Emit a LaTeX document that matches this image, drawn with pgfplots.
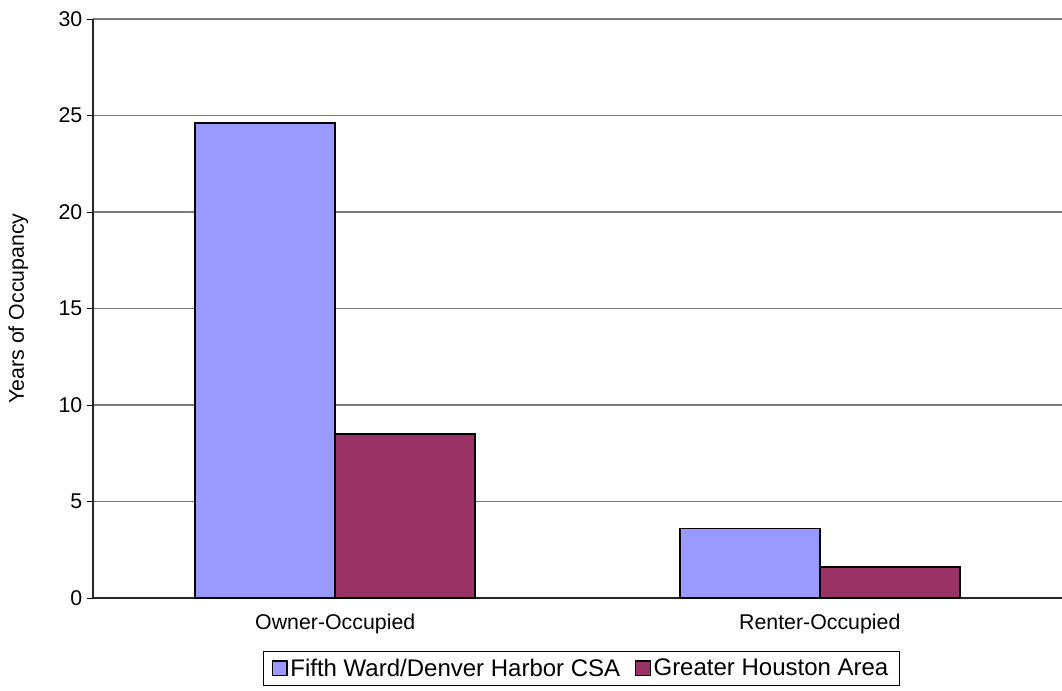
\documentclass[border=0pt]{standalone}
\usepackage{pgfplots}
\pgfplotsset{compat=1.18}
\usepackage{fontspec}
\setmainfont{Liberation Sans}

\definecolor{fifthward}{HTML}{9999FF}
\definecolor{houston}{HTML}{993366}
\definecolor{gridgray}{HTML}{7A7A7A}

\begin{document}
\begin{tikzpicture}
% 1 px of the reference = 0.75pt
\useasboundingbox (-69.75pt,-69.75pt) rectangle (726.75pt,448.5pt);
\begin{axis}[
    at={(0,0)}, anchor=south west,
    scale only axis,
    width=726.75pt, height=434.25pt,
    ybar=0pt,
    bar width=0.289,
    xmin=0, xmax=2,
    ymin=0, ymax=30,
    ytick={0,5,...,30},
    xtick={0.5,1.5},
    xticklabels={Owner-Occupied,Renter-Occupied},
    x tick style={draw=none},
    extra x ticks={1,2},
    extra x tick labels={},
    extra x tick style={tick style={draw=black, line width=0.6pt}, tick align=outside, major tick length=4.5pt},
    y tick style={draw=black, line width=0.6pt},
    tick align=outside,
    major tick length=4.5pt,
    axis x line*=bottom,
    axis y line*=left,
    axis line style={draw=black!85, line width=0.8pt},
    ymajorgrids=true,
    grid style={gridgray, line width=0.8pt},
    tick label style={font=\fontsize{16}{18}\selectfont},
    xticklabel style={yshift=-4pt},
    /pgf/number format/assume math mode=true,
    ylabel={Years of Occupancy},
    every axis y label/.style={at={(axis description cs:0,0.5)}, xshift=-56pt, rotate=90, anchor=center, font=\fontsize{16}{18}\selectfont},
    legend columns=2,
    legend style={at={(axis description cs:0.504,0)}, anchor=north, yshift=-39.75pt,
        draw=black, line width=0.6pt, font=\fontsize{18}{21}\selectfont,
        inner xsep=6pt, inner ysep=3.5pt,
        /tikz/every even column/.append style={column sep=9pt}},
    legend image code/.code={\draw[#1, line width=1pt, draw=black] (0pt,-5.5pt) rectangle (11pt,5.5pt);},
    clip=false,
]
\addplot[fill=fifthward, draw=black, line width=1.4pt] coordinates {(0.5,24.6) (1.5,3.6)};
\addlegendentry{Fifth Ward/Denver Harbor CSA}
\addplot[fill=houston, draw=black, line width=1.4pt] coordinates {(0.5,8.5) (1.5,1.6)};
\addlegendentry{Greater Houston Area}
\end{axis}
\end{tikzpicture}
\end{document}
